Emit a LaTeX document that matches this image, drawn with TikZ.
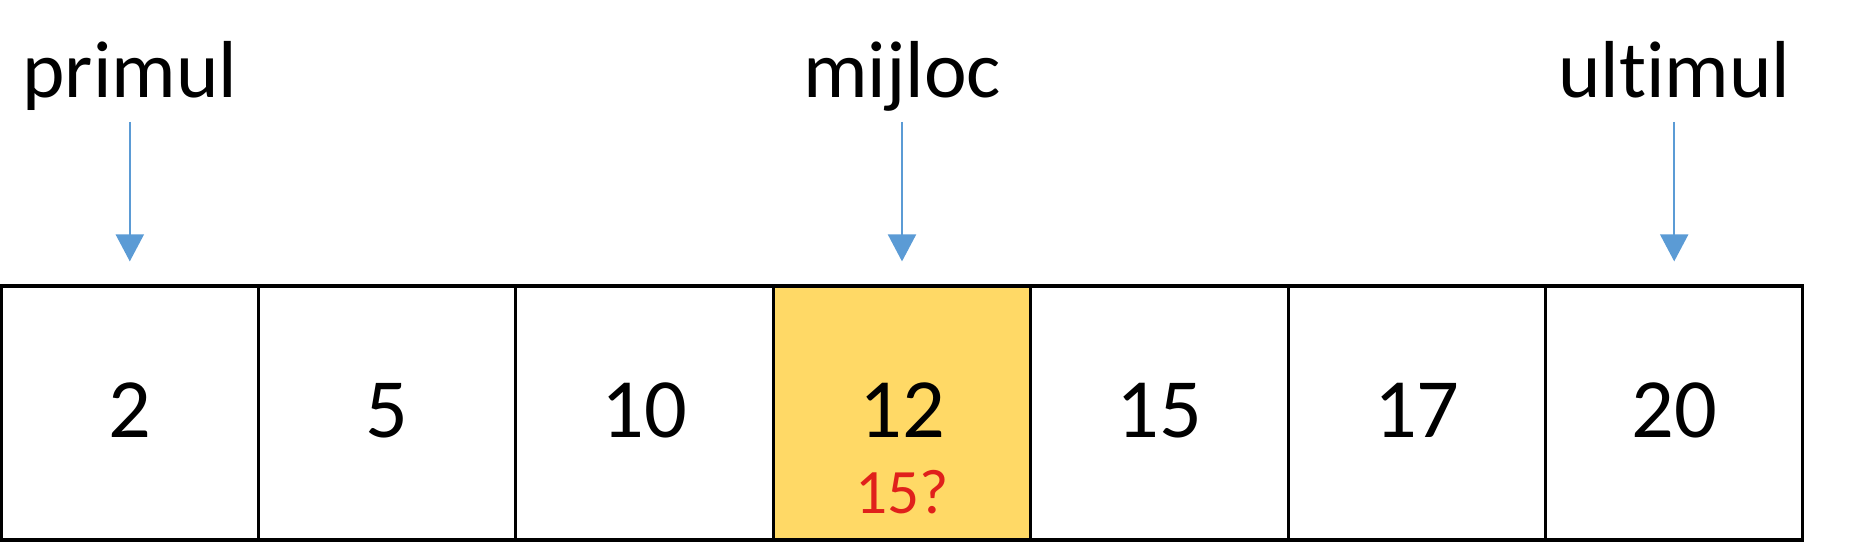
\documentclass[tikz,border=0pt]{standalone}
\usepackage{fontspec}
\setmainfont{Carlito}[Ligatures=NoCommon]
\usepackage{xcolor}
\usepackage{tikz}
\usetikzlibrary{matrix,arrows.meta}

\definecolor{gold}{HTML}{FFD966}
\definecolor{ptrblue}{HTML}{5B9BD5}
\definecolor{qred}{HTML}{E0201B}

\tikzset{
	lbl/.style={inner sep=0pt, anchor=base, font=\fontsize{23}{27}\selectfont},
	ptr/.style={ptrblue, line width=0.6pt, -{Triangle[width=0.28cm,length=0.27cm]}, shorten >=0.23cm}
}

\begin{document}
\begin{tikzpicture}
	\useasboundingbox (0,0) rectangle (18.76,5.44);
	\matrix(m) at (9.02,1.31) [line width=0.9pt, matrix of nodes, nodes={draw, anchor=center, text height=0.5cm, text depth=0pt, minimum width=2.574cm, minimum height=2.54cm, font=\fontsize{24}{28}\selectfont}, column sep=-\pgflinewidth]{
		2	&5	&10	&|[fill=gold]|12	&15	&17	&20	\\
	};
	\node[text=qred, font=\fontsize{18}{21}\selectfont] (intreb) at ([yshift=-0.79cm]m-1-4.center) {15?};
	% indicii
	\coordinate (sus) at (0,4.46);
	\node[lbl] (primul) at (m-1-1 |- sus) {primul};
	\node[lbl] (mijloc) at (m-1-4 |- sus) {mijloc};
	\node[lbl] (ultimul) at (m-1-7 |- sus) {ultimul};
	\draw[ptr] ([yshift=-0.24cm]primul.base) -- (m-1-1.north);
	\draw[ptr] ([yshift=-0.24cm]mijloc.base) -- (m-1-4.north);
	\draw[ptr] ([yshift=-0.24cm]ultimul.base) -- (m-1-7.north);
\end{tikzpicture}
\end{document}
